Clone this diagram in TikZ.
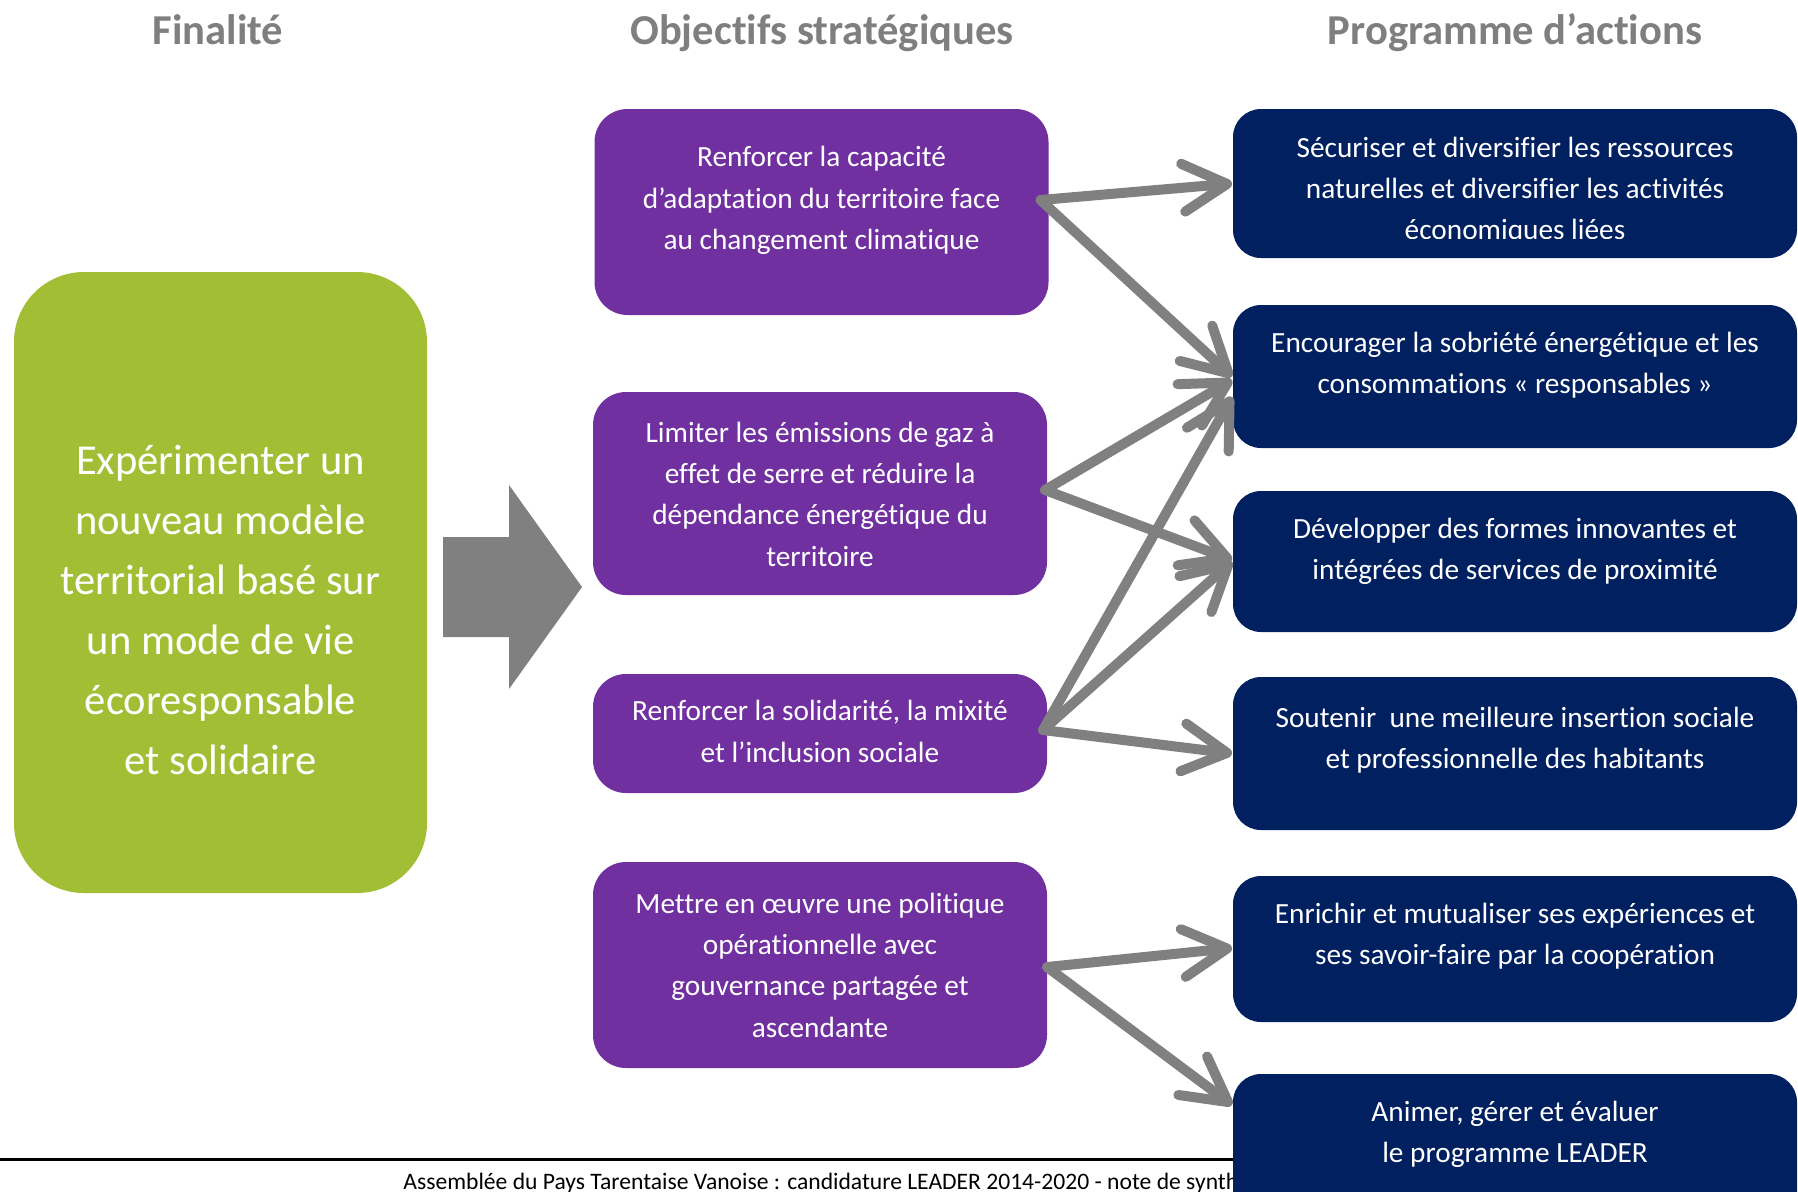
\documentclass[tikz,border=0pt]{standalone}
\usepackage{fontspec}
\setmainfont{Carlito}[Ligatures=NoCommon]
\usetikzlibrary{arrows.meta,calc}
\definecolor{cgreen}{HTML}{A2BE34}
\definecolor{cpurple}{HTML}{7030A0}
\definecolor{cnavy}{HTML}{002060}
\definecolor{cgrey}{HTML}{808080}
\definecolor{chead}{HTML}{7F7F7F}
\tikzset{
  box/.style={rectangle, inner sep=0pt, outer sep=0pt},
  gbox/.style={box, fill=cgreen, rounded corners=35pt, minimum width=206.5pt, minimum height=310.5pt},
  pbox/.style={box, fill=cpurple, rounded corners=16.5pt, minimum width=227pt},
  nbox/.style={box, fill=cnavy, rounded corners=14pt, minimum width=282pt},
  btext/.style={text=white, align=center, inner sep=0pt, font={\fontsize{14.65pt}{20.65pt}\selectfont}},
  gtext/.style={text=white, align=center, inner sep=0pt, font={\fontsize{21.3pt}{30pt}\selectfont}},
  head/.style={text=chead, anchor=base, inner sep=0pt, font={\bfseries\fontsize{21.3pt}{25pt}\selectfont}},
  foot/.style={text=black, anchor=base west, inner sep=0pt, font={\fontsize{11.8pt}{14pt}\selectfont}},
  link/.style={draw=cgrey, line width=5pt, line cap=round, -{Straight Barb[length=22pt,width=24pt,round]}},
}
\begin{document}
\begin{tikzpicture}[x=0.5pt,y=-0.5pt]
\useasboundingbox (0,0) rectangle (1798,1191);
\fill[white] (0,0) rectangle (1798,1191);

% headers
\node[head] (h1) at (218,44) {Finalité};
\node[head] (h2) at (822,44) {Objectifs stratégiques};
\node[head] (h3) at (1515,44) {Programme d’actions};

% footer
\coordinate (fl) at (0,1159);
\coordinate (fr) at (1240,1159);
\draw[line width=1.5pt] (fl) -- (fr);
\node[foot] (ft) at (403,1189) {Assemblée du Pays Tarentaise Vanoise : candidature LEADER 2014-2020 - note de synthèse};

% green box
\node[gbox] (g) at (220.5,582.5) {};
\node[gtext] (gt) at (220.5,609.5) {Expérimenter un\\nouveau modèle\\territorial basé sur\\un mode de vie\\écoresponsable\\et solidaire};

% big arrow
\fill[cgrey] (443,537) -- (509,537) -- (509,485) -- (582,587) -- (509,689) -- (509,637) -- (443,637) -- cycle;

% purple boxes
\node[pbox, minimum height=103pt] (p1) at (821.5,212) {};
\node[btext] (p1t) at (821.5,200.5) {Renforcer la capacité\\d’adaptation du territoire face\\au changement climatique};
\node[pbox, minimum height=101.5pt] (p2) at (820,493.5) {};
\node[btext] (p2t) at (820,494) {Limiter les émissions de gaz à\\effet de serre et réduire la\\dépendance énergétique du\\territoire};
\node[pbox, minimum height=59.5pt] (p3) at (820,733.5) {};
\node[btext] (p3t) at (820,731.5) {Renforcer la solidarité, la mixité\\et l’inclusion sociale};
\node[pbox, minimum height=103pt] (p4) at (820,965) {};
\node[btext] (p4t) at (820,965) {Mettre en œuvre une politique\\opérationnelle avec\\gouvernance partagée et\\ascendante};

% navy boxes
\node[nbox, minimum height=74.5pt] (n1) at (1515,183.5) {};
\begin{scope}
\clip (1233,100) rectangle (1797,238);
\node[btext] (n1t) at (1515,190.5) {Sécuriser et diversifier les ressources\\naturelles et diversifier les activités\\économiques liées};
\end{scope}
\node[nbox, minimum height=71.5pt] (n2) at (1515,376.5) {};
\node[btext] (n2t) at (1515,365.5) {Encourager la sobriété énergétique et les\\consommations « responsables »};
\node[nbox, minimum height=70.5pt] (n3) at (1515,561.5) {};
\node[btext] (n3t) at (1515,551.5) {Développer des formes innovantes et\\intégrées de services de proximité};
\node[nbox, minimum height=76.5pt] (n4) at (1515,753.5) {};
\node[btext] (n4t) at (1515,740.5) {Soutenir~ une meilleure insertion sociale\\et professionnelle des habitants};
\node[nbox, minimum height=73pt] (n5) at (1515,949) {};
\node[btext] (n5t) at (1515,936.5) {Enrichir et mutualiser ses expériences et\\ses savoir-faire par la coopération};
\node[nbox, minimum height=88pt] (n6) at (1515,1162) {};
\node[btext] (n6t) at (1515,1134) {Animer, gérer et évaluer\\le programme LEADER};

% connectors
\draw[link] ($(p1.east)+(-8,-12)$) -- ($(n1.west)+(-1,0)$);
\draw[link] ($(p1.east)+(-8,-12)$) -- ($(n2.west)+(-1,0)$);
\draw[link] ($(p2.east)+(-2,-3.5)$) -- ($(n2.west)+(-1,3.5)$);
\draw[link] ($(p2.east)+(-2,-3.5)$) -- ($(n3.west)+(-1,-1.5)$);
\draw[link] ($(p3.east)+(-4,-3.5)$) -- ($(n2.west)+(-1,20.5)$);
\draw[link] ($(p3.east)+(-4,-3.5)$) -- ($(n3.west)+(-1,0)$);
\draw[link] ($(p3.east)+(-4,-3.5)$) -- ($(n4.west)+(-1,0)$);
\draw[link] ($(p4.east)+(0,2)$) -- ($(n5.west)+(-1,-1)$);
\draw[link] ($(p4.east)+(0,2)$) -- ($(n6.west)+(-1,-57)$);
\end{tikzpicture}
\end{document}
